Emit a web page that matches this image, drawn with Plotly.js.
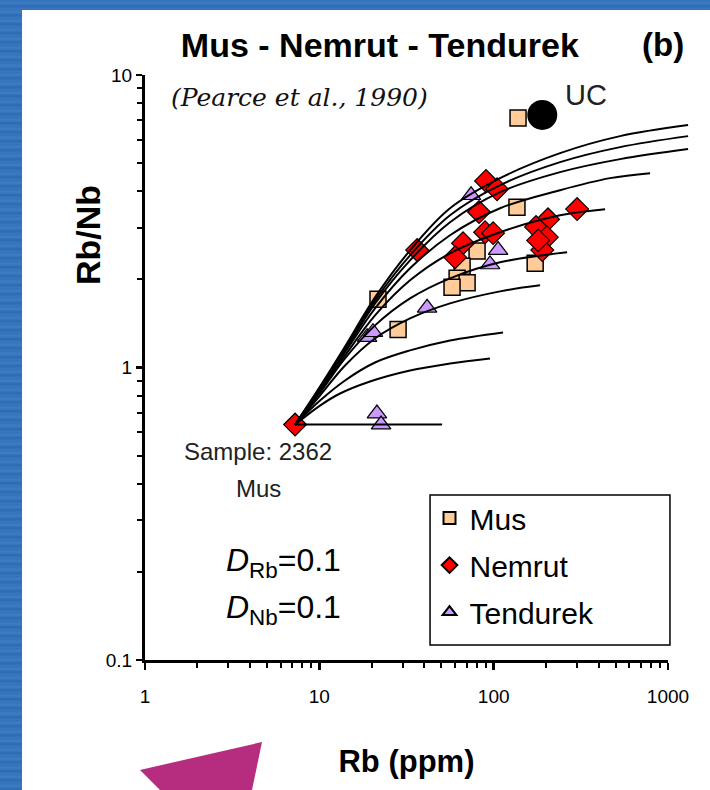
<!DOCTYPE html>
<html>
<head>
<meta charset="utf-8">
<script src="https://cdn.plot.ly/plotly-3.0.1.min.js"></script>
<style>
  html, body { margin:0; padding:0; width:710px; height:790px; overflow:hidden; }
  body { background: repeating-linear-gradient(180deg, #3272bb 0px, #3d7dc5 3px, #2e6ab2 6px, #3a78c0 9px); }
  #panel { position:absolute; left:22px; top:10px; width:688px; height:780px; background:#ffffff; }
  #chart { position:absolute; left:0; top:0; width:710px; height:790px; }
</style>
</head>
<body>
<div id="panel"></div>
<div id="chart"></div>
<script>
// ---- data (Rb ppm, Rb/Nb) ----
const musRb    = [138, 136, 80.3, 65.9, 61.7, 70.4, 57.7, 173, 21.7, 28.3];
const musRatio = [7.13, 3.53, 2.50, 2.22, 2.02, 1.95, 1.88, 2.27, 1.71, 1.35];

const nemrutRb    = [7.26, 36.4, 90.4, 104.6, 82.4, 89.3, 99.3, 66.7, 60.1, 301, 205, 175, 202, 190, 180];
const nemrutRatio = [0.638, 2.52, 4.34, 4.07, 3.40, 2.90, 2.88, 2.66, 2.38, 3.48, 3.21, 3.02, 2.79, 2.52, 2.72];

const tendurekRb    = [74.2, 106, 95.3, 41.5, 18.8, 20.3, 21.4, 22.6];
const tendurekRatio = [3.88, 2.52, 2.25, 1.60, 1.27, 1.32, 0.696, 0.638];

const ucRb = [190];
const ucRatio = [7.30];

// model curves from sample 2362
const curveA_Rb = [7.26, 10.09, 14.04, 20.87, 33.14, 56.2, 108.8, 240.4, 531.1, 1304];
const curveA_R  = [0.638, 0.861, 1.180, 1.737, 2.515, 3.503, 4.440, 5.406, 6.181, 6.743];
const curveB_Rb = [7.26, 10.09, 14.04, 20.87, 33.14, 56.2, 108.8, 240.4, 531.1, 1304];
const curveB_R  = [0.638, 0.854, 1.162, 1.696, 2.419, 3.315, 4.201, 5.036, 5.668, 6.181];
const curveC_Rb = [7.26, 10.09, 14.04, 20.87, 33.14, 56.2, 108.8, 240.4, 531.1, 1304];
const curveC_R  = [0.638, 0.847, 1.144, 1.657, 2.325, 3.137, 3.975, 4.654, 5.157, 5.580];
const curveD_Rb = [7.26, 10.09, 14.04, 20.87, 33.14, 56.2, 108.8, 240.4, 465.4, 789.4];
const curveD_R  = [0.638, 0.841, 1.126, 1.592, 2.183, 2.832, 3.503, 4.039, 4.440, 4.618];
const curveE_Rb = [7.26, 10.09, 14.04, 20.87, 33.14, 56.2, 108.8, 240.4, 435.6];
const curveE_R  = [0.638, 0.834, 1.099, 1.507, 1.986, 2.457, 2.900, 3.315, 3.476];
const curveF_Rb = [7.26, 10.09, 14.04, 20.87, 33.14, 56.2, 108.8, 263.8];
const curveF_R  = [0.638, 0.821, 1.074, 1.393, 1.723, 2.018, 2.289, 2.477];
const curveG_Rb = [7.26, 10.09, 14.04, 20.87, 33.14, 56.2, 108.8, 184.6];
const curveG_R  = [0.638, 0.802, 1.016, 1.257, 1.472, 1.657, 1.821, 1.909];
const curveH_Rb = [7.26, 10.09, 14.04, 20.87, 33.14, 56.2, 113.2];
const curveH_R  = [0.638, 0.771, 0.903, 1.040, 1.144, 1.237, 1.318];
const curveI_Rb = [7.26, 10.09, 13.15, 19.54, 33.14, 56.2, 95.3];
const curveI_R  = [0.638, 0.741, 0.815, 0.896, 0.977, 1.032, 1.074];
const curveJ_Rb = [7.26, 50.6];
const curveJ_R  = [0.638, 0.638];

const xTickVals = [1, 10, 100, 1000];
const xTickText = ['1', '10', '100', '1000'];
const yTickVals = [0.1, 1, 10];
const yTickText = ['0.1', '1', '10'];
const xMinor = [2,3,4,5,6,7,8,9,20,30,40,50,60,70,80,90,200,300,400,500,600,700,800,900];
const yMinor = [0.2,0.3,0.4,0.5,0.6,0.7,0.8,0.9,2,3,4,5,6,7,8,9];

const FONT = 'Liberation Sans, Arial, sans-serif';

const curves = [
  [curveA_Rb, curveA_R], [curveB_Rb, curveB_R], [curveC_Rb, curveC_R],
  [curveD_Rb, curveD_R], [curveE_Rb, curveE_R], [curveF_Rb, curveF_R],
  [curveG_Rb, curveG_R], [curveH_Rb, curveH_R], [curveI_Rb, curveI_R],
  [curveJ_Rb, curveJ_R]
];

const traces = curves.map(c => ({
  x: c[0], y: c[1], xaxis: 'x2', yaxis: 'y', type: 'scatter', mode: 'lines',
  line: {color: '#000', width: 2, shape: 'spline', smoothing: 1},
  showlegend: false, hoverinfo: 'skip'
}));

traces.push({
  x: ucRb, y: ucRatio, type: 'scatter', mode: 'markers', name: 'UC',
  marker: {symbol: 'circle', size: 30, color: '#000'}, showlegend: false, cliponaxis: false
});
traces.push({
  x: musRb, y: musRatio, type: 'scatter', mode: 'markers', name: 'Mus',
  legendgroup: 'g1', legendrank: 1,
  marker: {symbol: 'square', size: 16, color: '#FFCC99', line: {color: '#000', width: 1.5}}, cliponaxis: false
});
traces.push({
  x: tendurekRb, y: tendurekRatio, type: 'scatter', mode: 'markers', name: 'Tendurek',
  legendgroup: 'g3', legendrank: 3,
  marker: {symbol: 'triangle-up', size: 17, color: '#CC99FF', line: {color: '#000', width: 1.2}}, cliponaxis: false
});
traces.push({
  x: nemrutRb, y: nemrutRatio, type: 'scatter', mode: 'markers', name: 'Nemrut',
  legendgroup: 'g2', legendrank: 2,
  marker: {symbol: 'diamond', size: 17.5, color: '#FF0000', line: {color: '#000', width: 1.2}}, cliponaxis: false
});

const layout = {
  width: 710, height: 790,
  margin: {l: 145, r: 21, t: 75, b: 130},
  paper_bgcolor: 'rgba(0,0,0,0)',
  plot_bgcolor: 'rgba(0,0,0,0)',
  font: {family: FONT, color: '#000'},
  title: {
    text: '<b>Mus - Nemrut - Tendurek</b>',
    font: {family: FONT, size: 34, color: '#000'},
    xref: 'container', yref: 'container', x: 0.535, xanchor: 'center', y: 0.943, yanchor: 'middle'
  },
  xaxis: {
    type: 'log', range: [0, 3], domain: [0, 0.9614], anchor: 'y',
    tickvals: xTickVals, ticktext: xTickText,
    ticks: 'outside', ticklen: 7, tickwidth: 2.5, tickcolor: '#000', ticklabelstandoff: 10,
    minor: {tickvals: xMinor, ticks: 'outside', ticklen: 5, tickwidth: 2, tickcolor: '#000', showgrid: false},
    showline: true, linewidth: 3, linecolor: '#000', mirror: false,
    showgrid: false, zeroline: false,
    tickfont: {family: FONT, size: 19, color: '#000'},
    title: {text: '<b>Rb (ppm)</b>', font: {family: FONT, size: 31, color: '#000'}, standoff: 45}
  },
  xaxis2: {
    type: 'log', range: [0, 3.1205], domain: [0, 1], anchor: 'y', visible: false
  },
  yaxis: {
    type: 'log', range: [-1, 1],
    tickvals: yTickVals, ticktext: yTickText,
    ticks: 'outside', ticklen: 6, tickwidth: 2.5, tickcolor: '#000',
    minor: {tickvals: yMinor, ticks: 'outside', ticklen: 5, tickwidth: 2, tickcolor: '#000', showgrid: false},
    showline: true, linewidth: 3, linecolor: '#000',
    showgrid: false, zeroline: false,
    tickfont: {family: FONT, size: 19, color: '#000'}
  },
  showlegend: true,
  legend: {
    x: 0.523, y: 0.287, xanchor: 'left', yanchor: 'top',
    bgcolor: 'rgba(0,0,0,0)', borderwidth: 0,
    font: {family: FONT, size: 30, color: '#000'},
    traceorder: 'grouped', tracegroupgap: 5, itemsizing: 'constant'
  },
  annotations: [
    {text: '<b>Rb/Nb</b>', xref: 'paper', yref: 'paper', x: -0.1048, y: 0.7265, xanchor: 'center', yanchor: 'middle',
     textangle: -90, showarrow: false, font: {family: FONT, size: 34, color: '#000'}},
    {text: '<b>(b)</b>', xref: 'paper', yref: 'paper', x: 0.952, y: 1.0513, xanchor: 'center', yanchor: 'middle',
     showarrow: false, font: {family: FONT, size: 33, color: '#000'}},
    {text: '<i>(Pearce et al., 1990)</i>', xref: 'paper', yref: 'paper', x: 0.044, y: 0.962, xanchor: 'left', yanchor: 'middle',
     showarrow: false, font: {family: 'DejaVu Serif, serif', size: 25, color: '#111'}},
    {text: 'UC', xref: 'paper', yref: 'paper', x: 0.768, y: 0.966, xanchor: 'left', yanchor: 'middle',
     showarrow: false, font: {family: FONT, size: 29, color: '#222'}},
    {text: 'Sample: 2362', xref: 'paper', yref: 'paper', x: 0.208, y: 0.357, xanchor: 'center', yanchor: 'middle',
     showarrow: false, font: {family: FONT, size: 24, color: '#222'}},
    {text: 'Mus', xref: 'paper', yref: 'paper', x: 0.208, y: 0.294, xanchor: 'center', yanchor: 'middle',
     showarrow: false, font: {family: FONT, size: 24, color: '#222'}},
    {text: '<i>D</i><sub>Rb</sub>=0.1', xref: 'paper', yref: 'paper', x: 0.145, y: 0.166, xanchor: 'left', yanchor: 'middle',
     showarrow: false, font: {family: FONT, size: 32, color: '#000'}},
    {text: '<i>D</i><sub>Nb</sub>=0.1', xref: 'paper', yref: 'paper', x: 0.145, y: 0.0856, xanchor: 'left', yanchor: 'middle',
     showarrow: false, font: {family: FONT, size: 32, color: '#000'}}
  ],
  shapes: [
    {type: 'rect', xref: 'paper', yref: 'paper', layer: 'below',
     x0: 0.524, x1: 0.965, y0: 0.0256, y1: 0.282,
     fillcolor: '#fff', line: {color: '#000', width: 1.5}},
    {type: 'path', xref: 'paper', yref: 'paper', layer: 'above',
     path: 'M -0.0092,-0.188 L 0.2151,-0.1402 L 0.1967,-0.2222 L 0.0276,-0.2222 Z',
     fillcolor: '#b62d80', line: {width: 0}}
  ]
};

Plotly.newPlot('chart', traces, layout, {staticPlot: true, displayModeBar: false});
</script>
</body>
</html>
